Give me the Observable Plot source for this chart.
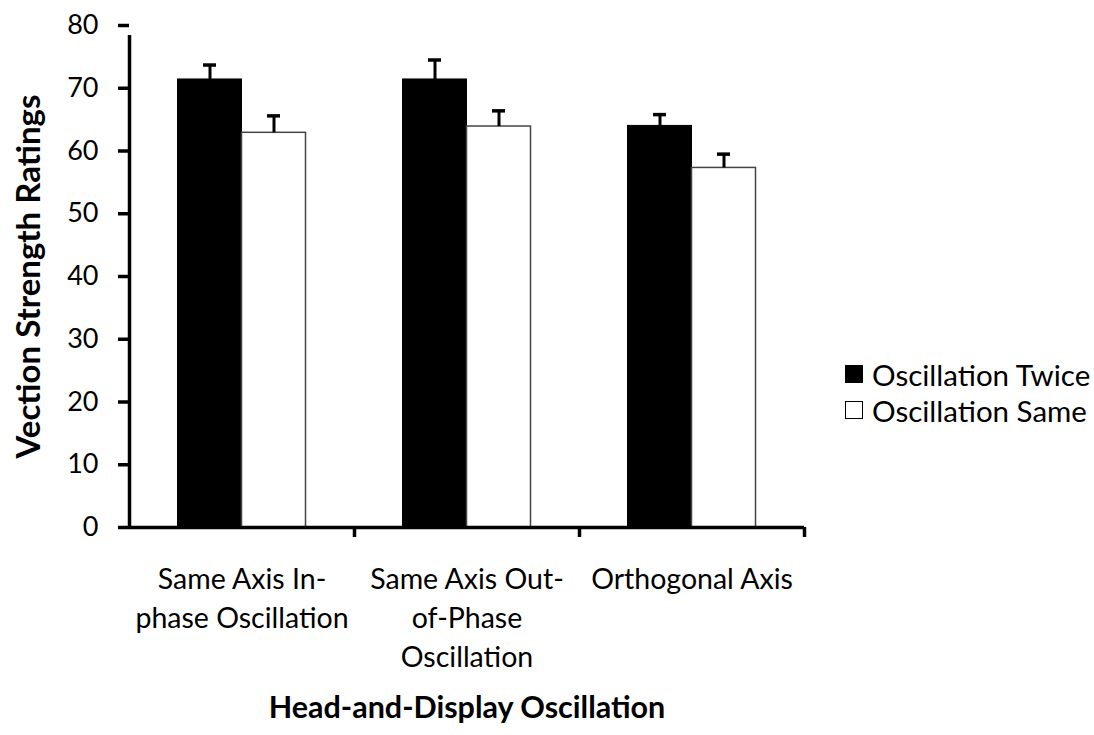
<!DOCTYPE html>
<html>
<head>
<meta charset="utf-8">
<script src="https://cdn.jsdelivr.net/npm/d3@7"></script>
<script src="https://cdn.jsdelivr.net/npm/@observablehq/plot@0.6"></script>
<style>
  html, body { margin: 0; padding: 0; background: #fff; }
  #wrap { position: relative; width: 1094px; height: 735px; font-family: Lato, sans-serif; }
  #legend { position: absolute; left: 845px; top: 356px; color: #000; font-size: 29.5px; }
  .row { display: flex; align-items: center; height: 36px; }
  .sw { width: 18px; height: 18px; box-sizing: border-box; border: 1.5px solid #000; margin-right: 9px; }
</style>
</head>
<body>
<div id="wrap"></div>
<script>
const groups = ["Same Axis In-phase Oscillation", "Same Axis Out-of-Phase Oscillation", "Orthogonal Axis"];
const groupLabels = ["Same Axis In-\nphase Oscillation", "Same Axis Out-\nof-Phase\nOscillation", "Orthogonal Axis"];
const series = ["Oscillation Twice", "Oscillation Same"];
const seriesFill = ["#000000", "#ffffff"];
const twiceValues = [71.4, 71.4, 64.0];
const twiceErr = [2.3, 3.1, 1.8];
const sameValues = [62.9, 63.9, 57.3];
const sameErr = [2.7, 2.5, 2.2];
const yTicks = [0, 10, 20, 30, 40, 50, 60, 70, 80];
const yTitle = "Vection Strength Ratings";
const xTitle = "Head-and-Display Oscillation";

const W = 1094, H = 735, ML = 129, MR = 290, MT = 25, MB = 208;
const B = (W - ML - MR) / groups.length;   // band width
const barW = 64, capW = 13;

const twiceData = groups.map((g, i) => ({group: g, value: twiceValues[i], err: twiceErr[i]}));
const sameData = groups.map((g, i) => ({group: g, value: sameValues[i], err: sameErr[i]}));

const leftC = B / 2 - barW / 2;   // center of left bar from band start
const rightC = B / 2 + barW / 2;

const chart = Plot.plot({
  width: W, height: H,
  marginLeft: ML, marginRight: MR, marginTop: MT, marginBottom: MB,
  style: {fontFamily: "Lato, sans-serif", color: "#000", background: "#fff"},
  x: {domain: groups, padding: 0, axis: null},
  y: {domain: [0, 80], axis: null},
  marks: [
    // bars
    Plot.barY(twiceData, {x: "group", y: "value", fill: seriesFill[0], stroke: "#000", strokeWidth: 1,
      insetLeft: B / 2 - barW, insetRight: B / 2}),
    Plot.barY(sameData, {x: "group", y: "value", fill: seriesFill[1], stroke: "#444", strokeWidth: 1.5,
      insetLeft: B / 2, insetRight: B / 2 - barW}),
    // error bars (upper only)
    Plot.ruleX(twiceData, {x: "group", y1: "value", y2: d => d.value + d.err, dx: leftC - B / 2, stroke: "#000", strokeWidth: 3}),
    Plot.ruleX(sameData, {x: "group", y1: "value", y2: d => d.value + d.err, dx: rightC - B / 2, stroke: "#000", strokeWidth: 3}),
    Plot.tickY(twiceData, {x: "group", y: d => d.value + d.err, stroke: "#000", strokeWidth: 3.5,
      insetLeft: leftC - capW / 2, insetRight: B - leftC - capW / 2}),
    Plot.tickY(sameData, {x: "group", y: d => d.value + d.err, stroke: "#000", strokeWidth: 3.5,
      insetLeft: rightC - capW / 2, insetRight: B - rightC - capW / 2}),
    // axes lines
    Plot.ruleY([0], {stroke: "#000", strokeWidth: 3.5}),
    Plot.ruleX([groups[0]], {x: d => d, dx: -B / 2, y1: 0, y2: 80, insetBottom: -10, stroke: "#000", strokeWidth: 3.5}),
    Plot.ruleX(groups, {x: d => d, dx: B / 2, y1: 0, y2: 0, insetBottom: -10, stroke: "#000", strokeWidth: 3.5}),
    Plot.axisY({ticks: yTicks, tickFormat: d => d, tickSize: 11, tickPadding: 20, fontSize: 27, strokeWidth: 3.5, label: null, fill: "#000"}),
    // category labels
    Plot.text(groups, {x: d => d, text: (d, i) => groupLabels[i], frameAnchor: "bottom", lineAnchor: "top",
      dy: 34, fontSize: 28.5, lineHeight: 1.37, fill: "#000"}),
    // titles
    Plot.text([yTitle], {text: d => d, frameAnchor: "left", textAnchor: "middle", lineAnchor: "middle", dx: -100, rotate: -90, fontSize: 33, fontWeight: "bold", fill: "#000"}),
    Plot.text([xTitle], {text: d => d, frameAnchor: "bottom", textAnchor: "middle", lineAnchor: "middle", dy: 181, fontSize: 30.5, fontWeight: "bold", fill: "#000"})
  ]
});

const wrap = document.getElementById("wrap");
wrap.appendChild(chart);

const legend = document.createElement("div");
legend.id = "legend";
series.forEach((s, i) => {
  const row = document.createElement("div");
  row.className = "row";
  const sw = document.createElement("div");
  sw.className = "sw";
  sw.style.background = seriesFill[i];
  const lab = document.createElement("span");
  lab.textContent = s;
  row.appendChild(sw);
  row.appendChild(lab);
  legend.appendChild(row);
});
wrap.appendChild(legend);
</script>
</body>
</html>
